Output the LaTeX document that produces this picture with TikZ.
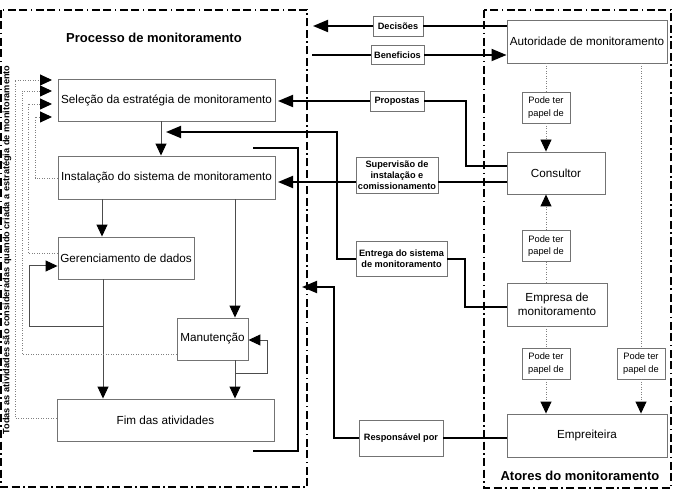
\documentclass[tikz,border=0pt]{standalone}
\usepackage{fontspec}
\setmainfont{Liberation Sans}
\usetikzlibrary{arrows.meta,calc}
\begin{document}
\begin{tikzpicture}[x=1pt,y=-1pt,
  box/.style={draw=black!55, line width=0.9pt, fill=white, inner sep=0pt,
    font=\fontsize{11.7}{14}\selectfont, align=center},
  lbl/.style={draw=black!55, line width=0.9pt, fill=white, inner sep=0pt,
    font=\bfseries\fontsize{9.2}{11}\selectfont, align=center},
  pode/.style={draw=black!55, line width=0.9pt, fill=white, inner sep=0pt,
    font=\fontsize{9.3}{12.5}\selectfont, align=center,
    minimum width=48pt, minimum height=31pt},
  frame/.style={line width=1.8pt, dash pattern=on 8pt off 3.5pt on 8pt off 3.5pt on 1.5pt off 3.5pt},
  conn/.style={line width=1.8pt, black},
  flow/.style={line width=1pt, black!70},
  fb/.style={line width=0.9pt, black!50, dash pattern=on 1pt off 1.5pt},
  tip/.style={-{Triangle[length=15pt,width=12pt,black]}},
  stip/.style={-{Triangle[length=12pt,width=11pt,black]}},
  title/.style={font=\bfseries\fontsize{13}{15}\selectfont}
]
\useasboundingbox (0,0) rectangle (675,497);

% frames
\draw[frame] (1,10) rectangle (307,487);
\draw[frame] (484,10) rectangle (671,488);

\node[title] (tproc) at (154,38) {Processo de monitoramento};
\node[title] (tatores) at (580,476) {Atores do monitoramento};

\node[rotate=90, font=\bfseries\fontsize{9.2}{10}\selectfont] (tnote) at (7,250)
  {Todas as atividades são consideradas quando criada a estratégia de monitoramento};

% process boxes
\node[box, minimum width=217pt, minimum height=42pt] (sel) at (166.5,100) {Seleção da estratégia de monitoramento};
\node[box, minimum width=217pt, minimum height=43pt] (ins) at (166.5,177.5) {Instalação do sistema de monitoramento};
\node[box, minimum width=136pt, minimum height=42pt] (ger) at (126,258) {Gerenciamento de dados};
\node[box, minimum width=71pt, minimum height=42pt] (man) at (212.5,339) {Manutenção};
\node[box, minimum width=217pt, minimum height=42pt] (fim) at (165.5,420) {Fim das atividades};

% actor boxes
\node[box, minimum width=160pt, minimum height=43pt] (aut) at (587,41.5) {Autoridade de monitoramento};
\node[box, minimum width=98pt, minimum height=42pt] (con) at (556,173) {Consultor};
\node[box, minimum width=100pt, minimum height=43pt] (emp) at (557,304.5) {Empresa de\\monitoramento};
\node[box, minimum width=160pt, minimum height=43pt] (eir) at (587,435.5) {Empreiteira};

% labels
\node[lbl, minimum width=50pt, minimum height=20pt] (ldec) at (398,26) {Decisões};
\node[lbl, minimum width=53pt, minimum height=19pt] (lben) at (397.5,55) {Beneficios};
\node[lbl, minimum width=54pt, minimum height=20pt] (lpro) at (397,101) {Propostas};
\node[lbl, minimum width=82pt, minimum height=36pt] (lsup) at (397,175) {Supervisão de\\instalação e\\comissionamento};
\node[lbl, minimum width=91pt, minimum height=35pt] (lent) at (401.5,259) {Entrega do sistema\\de monitoramento};
\node[lbl, minimum width=84pt, minimum height=36pt] (lres) at (401,438) {Responsável por};

\node[pode] (p1) at (546,107.5) {Pode ter\\papel de};
\node[pode] (p2) at (546,246) {Pode ter\\papel de};
\node[pode] (p3) at (546,363.5) {Pode ter\\papel de};
\node[pode] (p4) at (641,363.5) {Pode ter\\papel de};

% free ends
\coordinate (decEnd) at (313,26);
\coordinate (benStart) at (312,55);
\coordinate (proTurn) at (466,101);
\coordinate (proEnd) at (278,101);
\coordinate (supStart) at (507,182);
\coordinate (supEnd) at (278,182);
\coordinate (entTurnA) at (465,307);
\coordinate (entTurnB) at (337,132);
\coordinate (entEnd) at (166,132);
\coordinate (brA) at (253,148);
\coordinate (brB) at (298,148);
\coordinate (brC) at (298,451);
\coordinate (brD) at (253,451);
\coordinate (resTurn) at (334,287);
\coordinate (resEnd) at (302,287);

% main connectors
\draw[conn] (aut.west |- ldec) -- (ldec.east);
\draw[conn,tip] (ldec.west) -- (decEnd);
\draw[conn] (benStart) -- (lben.west);
\draw[conn,tip] (lben.east) -- (aut.west |- lben);
\draw[conn] (con.west |- 0,166) -| (proTurn) -- (lpro.east);
\draw[conn,tip] (lpro.west) -- (proEnd);
\draw[conn] (supStart) -- (lsup.east |- supStart);
\draw[conn,tip] (lsup.west |- supEnd) -- (supEnd);
\draw[conn] (emp.west |- entTurnA) -- (entTurnA) |- (lent.east);
\draw[conn,tip] (lent.west) -| (entTurnB) -- (entEnd);
\draw[conn] (brA) -- (brB) -- (brC) -- (brD);
\draw[conn] (eir.west |- lres) -- (lres.east);
\draw[conn,tip] (lres.west) -| (resTurn) -- (resEnd);

% process flow
\draw[flow,stip] (sel.south -| 161,0) -- (ins.north -| 161,0);
\draw[flow,stip] (ins.south -| 102,0) -- (ger.north -| 102,0);
\draw[flow,stip] (ins.south -| 235,0) -- (man.north -| 235,0);
\draw[flow,stip] (ger.south -| 103,0) -- (fim.north -| 103,0);
\draw[flow,stip] (103,326) -| (29,266) -- (ger.west |- 0,266);
\draw[flow,stip] (man.south -| 235,0) -- (fim.north -| 235,0);
\draw[flow,stip] (235,373) -| (267,340) -- (man.east |- 0,340);

% feedback dotted
\draw[fb,stip] (fim.west |- 0,418) -| (15,80) -- (52,80);
\draw[fb,stip] (man.west |- 0,354) -| (22,91) -- (52,91);
\draw[fb,stip] (ger.west |- 0,253) -| (28,104) -- (52,104);
\draw[fb,stip] (ins.west |- 0,178) -| (35,117) -- (52,117);

% actor role links
\draw[fb] (aut.south -| p1) -- (p1.north);
\draw[fb,stip] (p1.south) -- (con.north -| p1);
\draw[fb] (emp.north -| p2) -- (p2.south);
\draw[fb,stip] (p2.north) -- (con.south -| p2);
\draw[fb] (emp.south -| p3) -- (p3.north);
\draw[fb,stip] (p3.south) -- (eir.north -| p3);
\draw[fb] (aut.south -| p4) -- (p4.north);
\draw[fb,stip] (p4.south) -- (eir.north -| p4);
\end{tikzpicture}
\end{document}
